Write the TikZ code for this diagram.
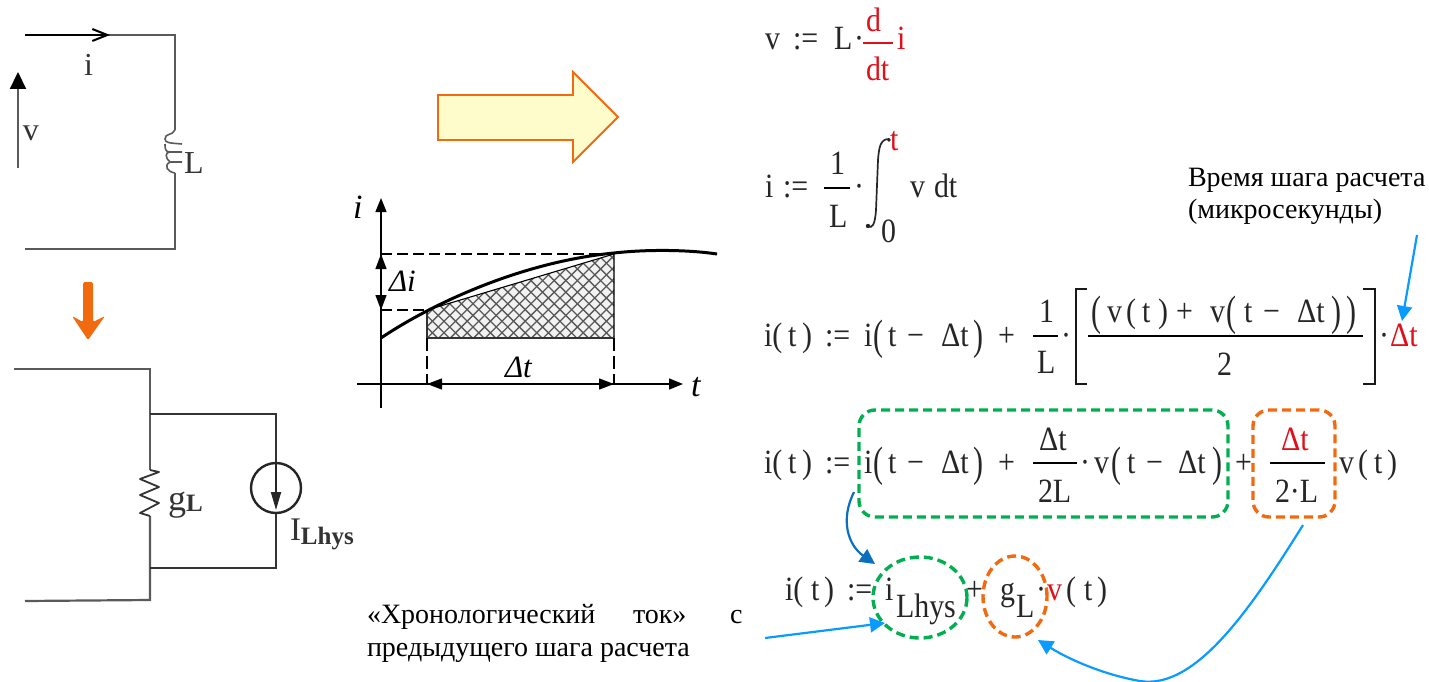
\documentclass[tikz,border=0pt]{standalone}
\usepackage{fontspec}
\usepackage{graphicx}
\setmainfont{Liberation Serif}
\newfontfamily\formfont[FakeStretch=0.88]{Liberation Serif}
\usetikzlibrary{arrows.meta,shapes.geometric}
\definecolor{mygreen}{HTML}{00B050}
\definecolor{myorange}{HTML}{F26A10}
\definecolor{myblue}{HTML}{0A9BFF}
\definecolor{mydblue}{HTML}{0B6FC0}
\definecolor{myred}{HTML}{E0101A}
\definecolor{wirecol}{HTML}{5A5A5A}
\newcommand\ff{\formfont\fontsize{34}{34}\selectfont}
\newcommand\sm{\fontsize{28}{28}\selectfont}
\newcommand\fm[4]{\node[fx] (#1) at (#2,#3) {#4};}
\newcommand\rr[1]{\textcolor{myred}{#1}}
\newcommand\bp[1]{\raisebox{-0.09em}{\scalebox{1}[1.25]{#1}}}
\tikzset{
  fx/.style={anchor=base west,inner sep=0pt,outer sep=0pt,font=\ff,text=black!85},
  lbl/.style={anchor=base west,inner sep=0pt,outer sep=0pt,font=\sm,text=black},
  ck/.style={anchor=base west,inner sep=0pt,outer sep=0pt,font=\fontsize{32}{32}\selectfont,text=black!80},
  gk/.style={anchor=base west,inner sep=0pt,outer sep=0pt,font=\fontsize{31}{31}\selectfont\itshape,text=black},
  wire/.style={draw=wirecol,line width=2.2pt},
  wiredark/.style={draw=black!80,line width=2.6pt},
  barline/.style={draw=black,line width=2.4pt},
  redbar/.style={draw=myred,line width=2.4pt},
  gbox/.style={draw=mygreen,line width=3.4pt,dash pattern=on 9pt off 5pt},
  obox/.style={draw=myorange,line width=3.4pt,dash pattern=on 9pt off 5pt},
  barrow/.style={draw=myblue,line width=2.2pt,-{Triangle[length=15pt,width=15pt]}},
  darrow/.style={draw=mydblue,line width=2.2pt,-{Triangle[length=15pt,width=15pt]}},
  axis/.style={draw=black,line width=1.3pt,-{Triangle[length=14pt,width=11pt]}},
  twoway/.style={draw=black,line width=1.3pt,{Triangle[length=15pt,width=11pt]}-{Triangle[length=15pt,width=11pt]}},
}
\begin{document}
\begin{tikzpicture}[x=1pt,y=-1pt]
\useasboundingbox (0,0) rectangle (1429,682);
% --- top circuit
\coordinate (t1) at (25,35);
\coordinate (t2) at (175,35);
\coordinate (t3) at (175,130);
\coordinate (t4) at (175,173);
\coordinate (t5) at (175,249);
\coordinate (t6) at (25,249);
\draw[wire] (t1) -- (t2) -- (t3);
\draw[wire] (t4) -- (t5) -- (t6);
\draw[black,line width=1.4pt,-{Straight Barb[length=15pt,width=12pt,line width=2pt]}] (t1) -- (110,35);
\draw[wire,line width=1.6pt]
 (t3) .. controls (172,136) and (165,133) .. (165,139)
 .. controls (165,143) and (170,143) .. (182,144)
 (165,144) .. controls (165,148) and (165,152) .. (170,152)
 (182,152) -- (170,152) .. controls (165,152) and (165,158) .. (170,162) -- (182,162)
 (170,162) .. controls (163,166) and (168,172) .. (t4);
\coordinate (va) at (18,168);
\coordinate (vb) at (18,72);
\draw[wire,-{Triangle[length=17pt,width=16pt,color=black]}] (va) -- (vb);
\node[ck] (vlab) at (23,140) {v};
\node[ck] (ilab) at (84,76) {i};
\node[ck] (Llab) at (184,173) {L};
% --- orange down arrow
\fill[myorange,rounded corners=1.5pt] (83,282) -- (93,282) -- (93,322) -- (105,316) -- (88,340) -- (72,316) -- (83,322) -- cycle;
% --- bottom circuit
\coordinate (b1) at (14,369);
\coordinate (b2) at (150,369);
\coordinate (b3) at (150,414);
\coordinate (b4) at (276,414);
\coordinate (b5) at (276,568);
\coordinate (b6) at (150,568);
\coordinate (b7) at (150,600);
\coordinate (b8) at (25,601);
\draw[wire] (b1) -- (b2) -- (b3) -- (150,470);
\draw[wire] (150,516) -- (b6) -- (b7) -- (b8);
\draw[wiredark] (b3) -- (b4) -- (276,463);
\draw[wiredark] (276,513) -- (b5) -- (b6);
\draw[black!80,line width=1.8pt,line join=round] (150,470) -- (159,472) -- (140,479) -- (159,487) -- (140,495) -- (159,503) -- (140,513) -- (150,516);
\node[draw=black!85,line width=2.4pt,circle,minimum size=50pt,inner sep=0pt] (src) at (276,488) {};
\draw[black!85,line width=1.8pt,-{Triangle[length=18pt,width=10pt]}] (src.north) -- (276,510);
\node[ck,font=\fontsize{36}{36}\selectfont] (glab) at (168,510) {g\raisebox{-0.03em}{\fontsize{25}{25}\selectfont\bfseries L}};
\node[ck,font=\fontsize{33}{33}\selectfont] (Ilab) at (290,540) {I\raisebox{-0.14em}{\fontsize{25}{25}\selectfont\bfseries Lhys}};
% --- block arrow
\path[draw=myorange,line width=1.8pt,fill=yellow!20] (438,95) -- (573,95) -- (573,72) -- (618,117) -- (573,162) -- (573,140) -- (438,140) -- cycle;
% --- graph
\fill[black!5] (427,310) -- (614,254) -- (614,338) -- (427,338) -- cycle;
\begin{scope}
\clip (427,310) -- (614,254) -- (614,338) -- (427,338) -- cycle;
\foreach \k in {0,...,60}{
  \draw[black!65,line width=1.3pt] (270+\k*11.6,240) -- +(130,130);
  \draw[black!65,line width=1.3pt] (270+\k*11.6,240) -- +(-130,130);
}
\end{scope}
\draw[black,line width=1.1pt] (427,310) -- (614,254) -- (614,338);
\draw[black!80,line width=1.8pt] (427,310) -- (427,338) -- (614,338);
\draw[axis] (381,408) -- (381,198);
\draw[axis] (357,384) -- (683,384);
\draw[black,line width=1.2pt,dash pattern=on 11pt off 5pt] (381,254) -- (614,254);
\draw[black,line width=1.2pt,dash pattern=on 11pt off 5pt] (381,310) -- (427,310);
\draw[black,line width=1.2pt,dash pattern=on 13pt off 5pt] (427,338) -- (427,384);
\draw[black,line width=1.2pt,dash pattern=on 13pt off 5pt] (614,338) -- (614,384);
\draw[twoway] (381,254) -- (381,310);
\draw[twoway] (427,384) -- (614,384);
\draw[black,line width=3pt] (381,338) .. controls (430,305) and (520,262) .. (614,253) .. controls (650,249) and (690,250) .. (717,254);
\node[gk,font=\fontsize{34}{34}\selectfont\itshape] (ig) at (353,218) {i};
\node[gk,font=\fontsize{34}{34}\selectfont\itshape] (tg) at (691,396) {t};
\node[gk] (di) at (389,291) {Δi};
\node[gk] (dt) at (505,377) {Δt};
% --- row 1
\fm{a1}{765}{50}{v}
\fm{a2}{793}{50}{:=}
\fm{a3}{834}{50}{L}
\fm{a4}{854}{50}{·}
\fm{a5}{866}{32}{\rr{d}}
\draw[redbar] (863,43) -- (893,43);
\fm{a6}{866}{81}{\rr{dt}}
\fm{a7}{897}{50}{\rr{i}}
% --- row 2
\fm{c1}{765}{197}{i}
\fm{c2}{783}{197}{:=}
\fm{c3}{830}{174}{1}
\draw[barline] (824,188) -- (850,188);
\fm{c4}{829}{227}{L}
\fm{c5}{854}{197}{·}
\draw[black!85,line width=1.7pt,line cap=round] (889,139) .. controls (880,139) and (879,148) .. (878,160) -- (876,210) .. controls (875,225) and (872,229) .. (868,226);
\fill[black!85] (889,140) circle (1.8pt) (868,226) circle (2.2pt);
\fm{c7}{890}{150}{\rr{t}}
\fm{c8}{881}{242}{0}
\fm{c9}{910}{197}{v}
\fm{c10}{934}{197}{dt}
% --- row 3
\fm{d1}{764}{346}{i(}
\fm{d2}{788}{346}{t}
\fm{d3}{802}{346}{)}
\fm{d4}{825}{346}{:=}
\fm{d5}{864}{346}{i}
\fm{d6}{873}{346}{\bp{(}}
\fm{d7}{888}{346}{t}
\fm{d8}{907}{346}{−}
\fm{d9}{941}{346}{Δt}
\fm{d10}{973}{346}{\bp{)}}
\fm{d11}{998}{346}{+}
\fm{d12}{1039}{322}{1}
\draw[barline] (1033,336) -- (1058,336);
\fm{d13}{1037}{373}{L}
\fm{d14}{1061}{346}{·}
\draw[black!90,line width=2.6pt] (1087,289) -- (1076,289) -- (1076,384) -- (1087,384);
\draw[black!90,line width=2.6pt] (1363,289) -- (1375,289) -- (1375,384) -- (1363,384);
\fm{d16}{1091}{322}{\bp{(}}
\fm{d17}{1107}{322}{v}
\fm{d18}{1126}{322}{(}
\fm{d19}{1142}{322}{t}
\fm{d20}{1158}{322}{)}
\fm{d21}{1176}{322}{+}
\fm{d22}{1210}{322}{v}
\fm{d23}{1226}{322}{\bp{(}}
\fm{d24}{1244}{322}{t}
\fm{d25}{1263}{322}{−}
\fm{d26}{1297}{322}{Δt}
\fm{d27}{1331}{322}{\bp{)}}
\fm{d28}{1346}{322}{\bp{)}}
\draw[barline] (1088,336) -- (1363,336);
\fm{d29}{1217}{375}{2}
\fm{d30}{1379}{346}{·}
\fm{d31}{1390}{346}{\rr{Δt}}
% --- row 4
\fm{e1}{764}{473}{i(}
\fm{e2}{788}{473}{t}
\fm{e3}{802}{473}{)}
\fm{e4}{825}{473}{:=}
\fm{e5}{864}{473}{i}
\fm{e6}{873}{473}{\bp{(}}
\fm{e7}{888}{473}{t}
\fm{e8}{907}{473}{−}
\fm{e9}{941}{473}{Δt}
\fm{e10}{973}{473}{\bp{)}}
\fm{e11}{998}{473}{+}
\fm{e12}{1039}{450}{Δt}
\draw[barline] (1033,463) -- (1077,463);
\fm{e13}{1038}{502}{2L}
\fm{e14}{1080}{473}{·}
\fm{e15}{1094}{473}{v}
\fm{e16}{1111}{473}{\bp{(}}
\fm{e17}{1127}{473}{t}
\fm{e18}{1146}{473}{−}
\fm{e19}{1178}{473}{Δt}
\fm{e20}{1212}{473}{\bp{)}}
\fm{e21}{1235}{473}{+}
\fm{e22}{1281}{450}{\rr{Δt}}
\draw[barline] (1270,463) -- (1325,463);
\fm{e23}{1275}{502}{2·L}
\fm{e24}{1339}{473}{v}
\fm{e25}{1358}{473}{(}
\fm{e26}{1374}{473}{t}
\fm{e27}{1387}{473}{)}
% --- row 5
\fm{f1}{785}{600}{i(}
\fm{f2}{811}{600}{t}
\fm{f3}{824}{600}{)}
\fm{f4}{847}{600}{:=}
\fm{f5}{885}{600}{i}
\fm{f6}{896}{617}{Lhys}
\fm{f7}{966}{600}{+}
\fm{f8}{1000}{600}{g}
\fm{f9}{1016}{617}{L}
\fm{f10}{1036}{600}{·}
\fm{f11}{1047}{600}{\rr{v}}
\fm{f12}{1066}{600}{(}
\fm{f13}{1084}{600}{t}
\fm{f14}{1097}{600}{)}
% --- highlight shapes
\node[gbox,rounded corners=16pt,minimum width=369pt,minimum height=107pt,inner sep=0pt] (gb) at (1043.5,463.5) {};
\node[obox,rounded corners=16pt,minimum width=82pt,minimum height=107pt,inner sep=0pt] (ob) at (1294,463.5) {};
\node[gbox,ellipse,minimum width=94pt,minimum height=81pt,inner sep=0pt] (ge) at (920,597.5) {};
\node[obox,ellipse,minimum width=64pt,minimum height=81pt,inner sep=0pt] (oe) at (1015,596.5) {};
% --- labels
\node[lbl] (l1) at (1188,186) {Время шага расчета};
\node[lbl] (l2) at (1188,218) {(микросекунды)};
\node[lbl] (l3) at (367,623) {«Хронологический};
\node[lbl] (l4) at (633,623) {ток»};
\node[lbl] (l5) at (730,623) {с};
\node[lbl] (l6) at (367,656) {предыдущего шага расчета};
% --- blue arrows
\coordinate (s1) at (1417,235);
\coordinate (s2) at (765,638);
\coordinate (s3) at (854,492);
\coordinate (s4) at (1303,525);
\coordinate (e1t) at (1402,321);
\coordinate (e2t) at (885,623);
\coordinate (e3t) at (875,564);
\coordinate (e4t) at (1038,640);
\draw[barrow] (s1) -- (e1t);
\draw[barrow] (s2) -- (e2t);
\draw[darrow] (s3) .. controls (840,520) and (848,545) .. (e3t);
\draw[barrow] (s4) .. controls (1250,610) and (1195,690) .. (1140,681) .. controls (1105,675) and (1070,660) .. (e4t);
\end{tikzpicture}
\end{document}
